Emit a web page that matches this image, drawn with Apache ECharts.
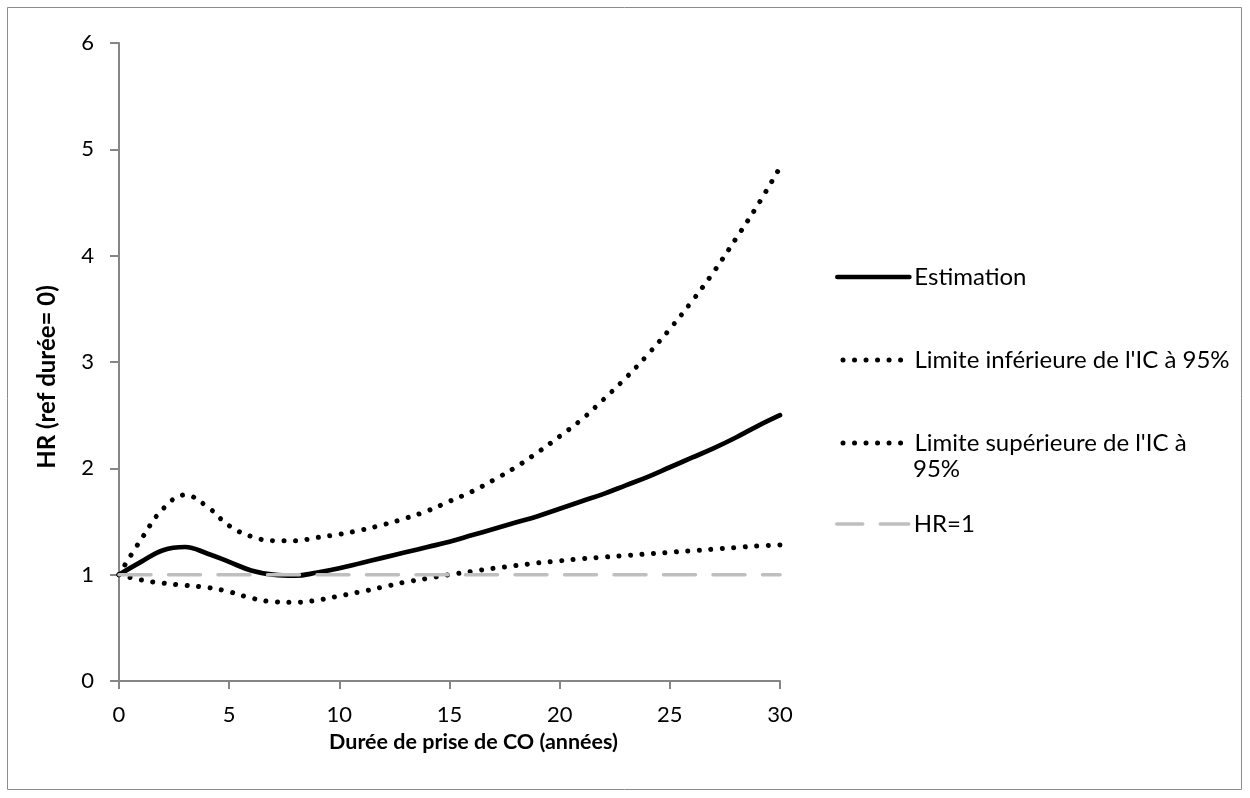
<!DOCTYPE html>
<html>
<head>
<meta charset="utf-8">
<script src="https://cdn.jsdelivr.net/npm/echarts@6/dist/echarts.min.js"></script>
<style>
html,body{margin:0;padding:0;background:#fff;}
#chart{width:1250px;height:798px;}
</style>
</head>
<body>
<div id="chart"></div>
<script>
const years = [0,1,2,3,4,5,6,7,8,9,10,11,12,13,14,15,16,17,18,19,20,21,22,23,24,25,26,27,28,29,30];
const estimation = [1.00,1.12,1.23,1.26,1.20,1.12,1.04,1.00,0.99,1.02,1.06,1.11,1.16,1.21,1.26,1.31,1.37,1.43,1.49,1.55,1.62,1.69,1.76,1.84,1.92,2.01,2.10,2.19,2.29,2.40,2.50];
const lowerCI = [1.00,0.95,0.92,0.90,0.88,0.84,0.78,0.745,0.74,0.76,0.80,0.84,0.885,0.93,0.965,1.00,1.03,1.06,1.085,1.11,1.13,1.15,1.165,1.18,1.195,1.21,1.225,1.24,1.255,1.27,1.28];
const upperCI = [1.00,1.33,1.62,1.75,1.64,1.46,1.36,1.32,1.32,1.35,1.38,1.42,1.47,1.53,1.60,1.69,1.78,1.89,2.01,2.15,2.30,2.46,2.65,2.85,3.07,3.31,3.57,3.85,4.16,4.48,4.83];
const reference = years.map(() => 1);
const seriesNames = ['Estimation', "Limite inférieure de l'IC à 95%", "Limite supérieure de l'IC à 95%", 'HR=1'];
const upperLegendLines = ["Limite supérieure de l'IC à", '95%'];
const xTitle = 'Durée de prise de CO (années)';
const yTitle = 'HR (ref durée= 0)';

const pair = arr => years.map((x, i) => [x, arr[i]]);
const FONT = 'Lato, "Open Sans", sans-serif';
const solidStyle = {color:'#000', width:4.7, type:'solid', cap:'round'};
const dottedStyle = {color:'#000', width:5, type:[0.01, 11.5], cap:'round'};
const dashedStyle = {color:'#bfbfbf', width:3.5, type:[32, 17.5], cap:'round'};

const chart = echarts.init(document.getElementById('chart'));
function legendAt(top, name, lineStyle, formatter) {
  const l = {
    orient:'vertical', left:835, top:top, padding:0,
    itemWidth:72, itemHeight:2, itemGap:0, itemTextGap:6,
    selectedMode:false,
    textStyle:{fontFamily:FONT, fontSize:24, color:'#000', lineHeight:26},
    itemStyle:{opacity:0, color:'transparent', borderWidth:0},
    lineStyle:Object.assign({}, lineStyle, {dashOffset:6}),
    data:[name]
  };
  if (formatter) l.formatter = formatter;
  return l;
}
chart.setOption({
  animation:false,
  graphic:[
    {type:'rect', shape:{x:7.5, y:7.5, width:1234, height:782}, style:{fill:null, stroke:'#8c8c8c', lineWidth:1}, silent:true},
    {type:'text', left:913, top:457, style:{text:upperLegendLines[1], fontFamily:FONT, fontSize:24, fill:'#000'}}
  ],
  grid:{left:119, right:470, top:43, bottom:117, containLabel:false},
  legend:[
    legendAt(264, seriesNames[0], solidStyle),
    legendAt(347, seriesNames[1], dottedStyle),
    legendAt(430, seriesNames[2], dottedStyle, () => upperLegendLines[0]),
    legendAt(511, seriesNames[3], Object.assign({}, dashedStyle))
  ],
  xAxis:{
    type:'value', min:0, max:30, interval:5,
    name:xTitle, nameLocation:'middle', nameGap:50,
    nameTextStyle:{fontFamily:FONT, fontSize:21.5, fontWeight:'bold', color:'#000', padding:[0,0,0,48]},
    axisLine:{show:true, lineStyle:{color:'#868686', width:2}},
    axisTick:{show:true, length:8, lineStyle:{color:'#868686', width:2}},
    axisLabel:{fontFamily:FONT, fontSize:22, color:'#000', margin:23},
    splitLine:{show:false}
  },
  yAxis:{
    type:'value', min:0, max:6, interval:1,
    name:yTitle, nameLocation:'middle', nameGap:60, nameRotate:90,
    nameTextStyle:{fontFamily:FONT, fontSize:24, fontWeight:'bold', color:'#000', padding:[0,30,0,0]},
    axisLine:{show:true, lineStyle:{color:'#868686', width:2}},
    axisTick:{show:true, length:9, lineStyle:{color:'#868686', width:2}},
    axisLabel:{fontFamily:FONT, fontSize:22, color:'#000', margin:25},
    splitLine:{show:false}
  },
  series:[
    {name:seriesNames[0], type:'line', data:pair(estimation), smooth:0.4, showSymbol:false, symbol:'none',
     lineStyle:solidStyle, itemStyle:{color:'#000'}, z:3},
    {name:seriesNames[1], type:'line', data:pair(lowerCI), smooth:0.4, showSymbol:false, symbol:'none',
     lineStyle:dottedStyle, itemStyle:{color:'#000'}, z:3},
    {name:seriesNames[2], type:'line', data:pair(upperCI), smooth:0.4, showSymbol:false, symbol:'none',
     lineStyle:dottedStyle, itemStyle:{color:'#000'}, z:3},
    {name:seriesNames[3], type:'line', data:pair(reference), smooth:false, showSymbol:false, symbol:'none',
     lineStyle:dashedStyle, itemStyle:{color:'#bfbfbf'}, z:4}
  ]
});
</script>
</body>
</html>
